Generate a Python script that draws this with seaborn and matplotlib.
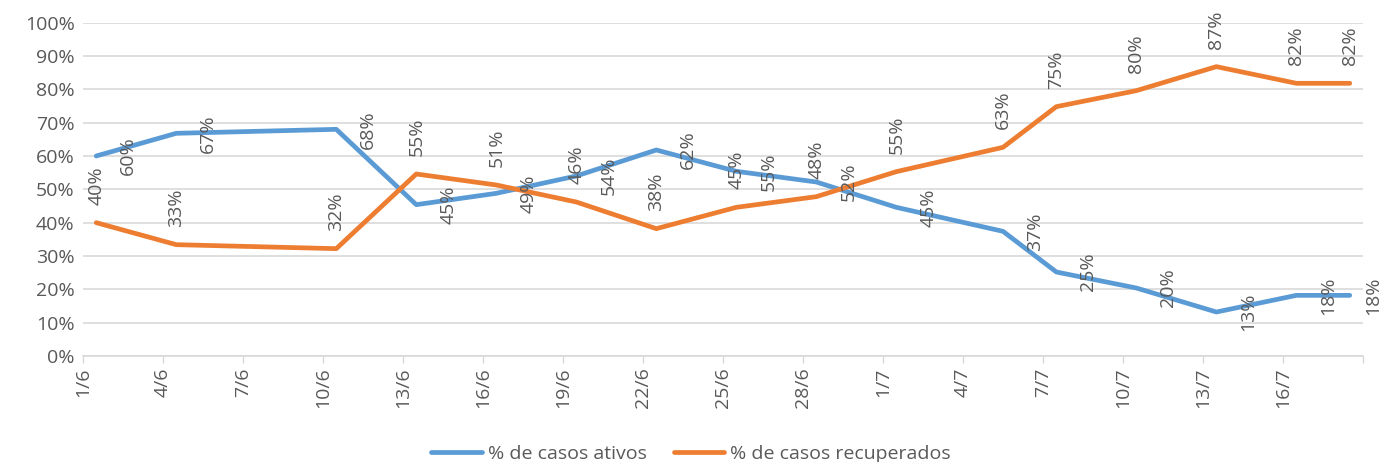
import numpy as np
import pandas as pd
import matplotlib
matplotlib.use("Agg")
import matplotlib.pyplot as plt
import seaborn as sns
from matplotlib.ticker import PercentFormatter

# datas das observações (ano assumido)
datas = ["2020-06-01", "2020-06-04", "2020-06-10", "2020-06-13", "2020-06-16",
         "2020-06-19", "2020-06-22", "2020-06-25", "2020-06-28", "2020-07-01",
         "2020-07-05", "2020-07-07", "2020-07-10", "2020-07-13", "2020-07-16",
         "2020-07-18"]
ativos = [0.60, 0.668, 0.68, 0.454, 0.488, 0.54, 0.618, 0.554, 0.522, 0.446,
          0.374, 0.252, 0.204, 0.132, 0.182, 0.182]
recuperados = [0.40, 0.334, 0.322, 0.546, 0.513, 0.462, 0.382, 0.446, 0.478, 0.553,
               0.626, 0.748, 0.796, 0.868, 0.818, 0.818]
series = ["% de casos ativos", "% de casos recuperados"]
cores = ["#5B9BD5", "#ED7D31"]

TXT = "#595959"
GRID = "#D9D9D9"
FS = 14

sns.set_theme(style="white")
plt.rcParams["font.family"] = ["Open Sans", "DejaVu Sans"]

# pontos no meio do dia (eixo de datas do Excel)
dt = pd.to_datetime(datas) + pd.Timedelta(hours=12)
df = pd.DataFrame({
    "data": np.concatenate([dt, dt]),
    "valor": ativos + recuperados,
    "serie": [series[0]] * len(datas) + [series[1]] * len(datas),
})

fig = plt.figure(figsize=(13.82, 4.62), dpi=100)
ax = fig.add_axes([0.060, 0.2294, 0.9263, 0.7216])

sns.lineplot(data=df, x="data", y="valor", hue="serie", palette=cores,
             linewidth=3.4, ax=ax, legend=False)

# rótulos de dados
for i, (x, v) in enumerate(zip(dt, ativos)):
    dx = 23 if i < len(dt) - 1 else 17   # o último fica encostado na borda
    ax.annotate(f"{v*100:.0f}%", (x, v), xytext=(dx, 0), textcoords="offset points",
                rotation=90, ha="center", va="center", fontsize=FS, color=TXT,
                annotation_clip=False)
for x, v in zip(dt, recuperados):
    ax.annotate(f"{v*100:.0f}%", (x, v), xytext=(0, 13), textcoords="offset points",
                rotation=90, ha="center", va="bottom", fontsize=FS, color=TXT,
                annotation_clip=False)

ticks = pd.date_range("2020-06-01", "2020-07-19", freq="3D")
ax.set_xlim(ticks[0], ticks[-1])
ax.set_xticks(ticks)
ax.set_xticklabels([f"{d.day}/{d.month}" if i < len(ticks) - 1 else ""
                    for i, d in enumerate(ticks)], rotation=90, fontsize=FS, color=TXT)
ax.set_ylim(0, 1)
ax.set_yticks(np.arange(0, 1.01, 0.1))
ax.yaxis.set_major_formatter(PercentFormatter(1.0, decimals=0))
ax.tick_params(axis="y", labelsize=FS, labelcolor=TXT, length=0, pad=6)
ax.tick_params(axis="x", length=5, color=GRID, width=1, pad=3, bottom=True)
ax.grid(axis="y", color=GRID, linewidth=1.2)
ax.set_axisbelow(True)
ax.set_xlabel("")
ax.set_ylabel("")
for s in ["top", "right", "left"]:
    ax.spines[s].set_visible(False)
ax.spines["bottom"].set_color(GRID)
ax.spines["bottom"].set_linewidth(1.2)

handles = [plt.Line2D([], [], color=c, linewidth=3.4) for c in cores]
fig.legend(handles, series, loc="lower center", bbox_to_anchor=(0.5, -0.04), ncol=2,
           frameon=False, fontsize=FS, labelcolor=TXT, handlelength=2.6,
           columnspacing=1.4, handletextpad=0.3)

fig.savefig("out.png", dpi=100)
